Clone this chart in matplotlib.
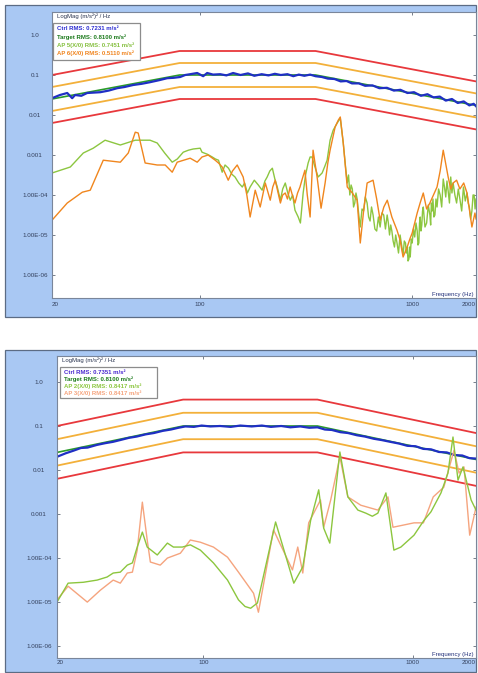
"""
Two random-vibration control plots: control spectrum against reference
profile with +-3/+-6 dB limits, plus two accelerometer response spectra.
"""
import numpy as np
import matplotlib
matplotlib.use('Agg')
import matplotlib.pyplot as plt
from matplotlib.patches import Rectangle
from matplotlib.ticker import NullLocator

plt.rcParams['font.family'] = ['Liberation Sans', 'DejaVu Sans']

W, H = 478, 673

# Reference profile, dB re 1 (m/s²)²/Hz
profile_hz = [20, 80, 350, 2000]
profile_db = [-16.0, -10.0, -10.0, -17.6]
limit_db = [6, 3, -3, -6]

# ---- top plot ----
top_ctrl_hz = [20, 21.8, 23.6, 24.9, 25.7, 27.5, 29.3, 33.8, 37, 40.6,
               44, 48.3, 53, 58, 64, 69.9, 75, 80.5, 85, 89.7,
               96.8, 103.3, 107.9, 115, 124.3, 133, 143, 155, 168, 180,
               195, 210, 225, 240, 258, 275, 292, 310, 330, 350,
               375, 400, 430, 460, 490, 520, 560, 600, 650, 700,
               760, 820, 880, 950, 1020, 1100, 1180, 1260, 1350, 1440,
               1540, 1640, 1750, 1860, 1950, 2000]
top_ctrl_db = [-15.8, -15.0, -14.5, -15.8, -15.0, -15.2, -14.5, -14.3, -13.9, -13.3,
               -13.0, -12.5, -12.2, -11.8, -11.3, -10.8, -10.7, -10.5, -10.0, -9.8,
               -9.5, -10.3, -9.5, -9.9, -9.8, -10.1, -9.5, -10.0, -9.6, -10.2,
               -9.8, -10.1, -9.7, -10.0, -9.8, -10.3, -9.9, -10.2, -9.9, -10.3,
               -10.5, -10.9, -11.0, -11.6, -11.5, -12.1, -12.1, -12.7, -12.6, -13.3,
               -13.2, -13.9, -13.7, -14.5, -14.3, -15.2, -14.8, -15.6, -15.4, -16.4,
               -16.0, -17.0, -16.6, -17.6, -17.2, -17.8]

top_ap_a_hz = [20, 24.4, 28.1, 31.3, 35.6, 42, 49.4, 58, 62.7, 68,
               73.8, 78, 83.2, 88, 92.7, 100, 102, 108, 114, 118,
               122, 127, 131, 136, 141, 146, 152, 158, 162, 167,
               172, 180, 188, 196, 202, 207, 213, 219, 225, 231,
               239, 245, 252, 259, 266, 273, 280, 290, 297, 306,
               314, 323, 330, 337, 348, 360, 376, 386, 397, 410,
               424, 443, 458,
               473, 485, 494, 501, 508, 515, 522, 529, 536, 543,
               550, 560, 569, 580, 590, 601, 613, 623, 633, 643,
               654, 667, 680, 693, 706, 720, 734, 748, 762, 772,
               782, 792, 802, 813, 825, 836, 848, 862, 877, 891,
               906, 918, 930, 938, 947, 956, 965, 972, 979, 990,
               1000, 1014, 1028, 1042, 1056, 1065, 1075, 1083, 1091, 1100,
               1110, 1119, 1128, 1149, 1170, 1191, 1212, 1222, 1232, 1242,
               1253, 1266, 1280, 1295, 1310, 1332, 1355, 1378, 1401, 1420,
               1440, 1459, 1478, 1499, 1520, 1540, 1560, 1590, 1620, 1650,
               1679, 1712, 1745, 1780, 1814, 1837, 1860, 1887, 1913, 1937,
               1960, 1980, 2000]
top_ap_a_db = [-34.5, -33.0, -29.5, -28.3, -26.3, -27.5, -26.3, -26.3, -27.0, -29.5,
               -31.8, -31.0, -29.3, -28.8, -28.5, -28.3, -29.3, -29.8, -30.5, -31.0,
               -31.3, -34.3, -32.5, -33.3, -34.8, -35.5, -37.0, -38.0, -37.0, -39.5,
               -38.0, -36.3, -37.5, -38.8, -36.5, -35.5, -34.0, -33.3, -36.0, -38.0,
               -41.3, -38.5, -37.0, -39.5, -41.3, -40.0, -43.8, -45.5, -47.0, -39.5,
               -35.0, -32.0, -30.5, -30.5, -33.0, -35.5, -34.5, -33.0, -31.3, -26.3,
               -23.8, -22.0, -20.8,
               -27.0, -33.0, -37.0, -35.0, -40.0, -37.5, -38.5, -43.0, -42.0, -39.5,
               -41.0, -45.0, -48.0, -43.5, -44.0, -40.5, -42.0, -45.5, -46.5, -43.0,
               -45.0, -48.5, -49.0, -45.5, -48.0, -44.5, -45.0, -48.5, -45.0, -47.0,
               -50.0, -47.5, -49.0, -51.5, -53.0, -50.0, -52.0, -54.5, -50.0, -52.5,
               -55.0, -51.5, -52.0, -54.5, -53.0, -56.5, -56.0, -53.0, -55.5, -51.0,
               -52.0, -48.5, -50.5, -47.0, -49.0, -52.5, -52.0, -47.0, -45.5, -49.0,
               -47.5, -44.0, -43.0, -48.0, -47.0, -42.5, -45.0, -47.5, -42.0, -44.0,
               -41.0, -45.5, -45.0, -41.0, -43.0, -38.5, -40.0, -43.0, -36.0, -38.0,
               -40.5, -36.5, -39.0, -42.0, -35.5, -39.5, -37.0, -40.0, -42.0, -38.5,
               -41.0, -44.0, -38.0, -41.5, -39.5, -42.0, -43.0, -46.0, -44.0, -40.0,
               -40.0, -43.5, -41.0]

top_ap_b_hz = [20, 23.6, 27.8, 30.3, 34.9, 42, 45.8, 49.4, 51, 55,
               62.7, 68.4, 73.8, 77.9, 89.7, 96.8, 102, 109, 117.7, 122,
               127, 131, 135.6, 142, 149.5, 159.5, 166, 172, 181.8, 191.9,
               202.8, 208, 214, 220, 226, 232, 239, 245, 252, 258,
               265.6, 272, 280, 288, 295.6, 303, 312, 320, 330, 340.8,
               356, 371.7, 388.4, 400, 410, 433, 448, 458, 473, 494,
               522, 550, 560, 569, 590, 613, 654, 680, 706, 735,
               763, 802, 848, 877, 906, 947, 975, 1000, 1056, 1090,
               1128, 1170, 1212, 1260, 1310, 1355, 1401, 1478, 1520, 1560,
               1620, 1679, 1750, 1814, 1913, 1977, 2000]
top_ap_b_db = [-46.3, -42.0, -39.3, -38.8, -31.3, -31.8, -29.5, -24.3, -24.5, -32.0,
               -32.5, -32.5, -34.3, -31.8, -30.8, -31.8, -30.5, -30.0, -31.3, -32.0,
               -33.0, -34.5, -36.3, -34.0, -32.5, -35.5, -40.0, -45.5, -38.8, -43.0,
               -37.0, -39.0, -41.3, -38.0, -36.3, -39.0, -42.0, -40.0, -39.5, -41.0,
               -38.0, -40.0, -42.0, -39.5, -38.0, -36.0, -33.8, -40.0, -45.5, -28.8,
               -35.5, -43.3, -37.0, -32.0, -28.8, -23.0, -21.3, -20.5, -27.0, -38.0,
               -39.5, -41.3, -47.0, -52.0, -44.0, -37.0, -36.3, -41.0, -46.3, -43.0,
               -41.3, -45.5, -48.8, -51.3, -55.5, -53.0, -51.0, -49.5, -44.5, -42.0,
               -39.5, -43.5, -42.0, -40.0, -38.0, -34.0, -28.8, -35.5, -38.5, -37.0,
               -36.3, -38.5, -37.0, -39.5, -48.0, -44.5, -46.0]

top_legend = ['Ctrl RMS: 0.7231 m/s²', 'Target RMS: 0.8100 m/s²',
              'AP 5(X/0) RMS: 0.7451 m/s²', 'AP 6(X/0) RMS: 0.5110 m/s²']

# ---- bottom plot ----
bot_ctrl_hz = [20, 22, 24, 26, 28, 31, 34, 37, 40, 44,
               48, 53, 58, 64, 70, 76, 82, 90, 98, 108,
               120, 135, 150, 170, 190, 210, 235, 260, 290, 320,
               350, 380, 410, 450, 490, 540, 590, 650, 710, 780,
               860, 940, 1030, 1120, 1220, 1330, 1450, 1580, 1720, 1860,
               2000]
bot_ctrl_db = [-17.0, -16.2, -15.6, -15.0, -14.9, -14.3, -13.9, -13.6, -13.2, -12.7,
               -12.4, -11.9, -11.6, -11.1, -10.8, -10.4, -10.1, -10.2, -9.9, -10.1,
               -10.0, -10.2, -9.9, -10.1, -9.9, -10.2, -10.0, -10.3, -10.1, -10.4,
               -10.3, -10.8, -10.9, -11.4, -11.6, -12.1, -12.4, -12.9, -13.2, -13.6,
               -14.0, -14.5, -14.6, -15.2, -15.3, -15.9, -16.0, -16.6, -16.7, -17.3,
               -17.4]

bot_ap_a_hz = [20, 22.6, 26.7, 31.1, 34.7, 37.1, 40.1, 43.3, 45.8, 48.3,
               51.1, 53.9, 60.2, 67.3, 71.9, 79.3, 86.6, 96.7, 111.6, 130.3,
               147, 158, 168, 181, 221, 270, 298, 325, 355, 375,
               401, 419, 448, 489, 546, 596, 640, 680, 743, 811,
               876, 1012, 1130, 1219, 1361, 1469, 1553, 1641, 1734, 1895,
               2000]
bot_ap_a_db = [-50.0, -45.7, -45.5, -45.0, -44.3, -43.4, -43.2, -41.6, -41.1, -37.5,
               -34.1, -37.5, -39.3, -36.6, -37.5, -37.5, -37.0, -38.2, -41.1, -45.0,
               -49.5, -51.0, -51.4, -50.2, -31.8, -45.7, -42.0, -31.4, -24.5, -33.2,
               -36.6, -28.4, -15.9, -26.1, -29.1, -29.8, -30.5, -29.8, -25.2, -38.2,
               -37.5, -34.8, -31.4, -29.5, -25.2, -20.7, -12.5, -22.3, -19.3, -26.8,
               -29.1]

bot_ap_b_hz = [20, 22.6, 27.9, 32.2, 37.1, 40.1, 43.3, 45.8, 48.3, 51.1,
               53.9, 55.8, 62.2, 67.3, 77.6, 86.6, 96.7, 111.6, 130.3, 147,
               173.5, 183, 216, 266, 282, 298, 318, 362, 375, 405,
               448, 489, 564, 680, 760, 803, 1012, 1122, 1250, 1404,
               1571, 1660, 1753, 1866, 1953, 2000]
bot_ap_b_db = [-49.5, -46.4, -50.0, -47.3, -45.0, -45.7, -43.4, -43.2, -38.2, -27.3,
               -35.9, -40.9, -41.6, -40.0, -38.9, -35.9, -36.4, -37.5, -39.8, -43.2,
               -48.0, -52.3, -33.6, -42.7, -37.5, -43.4, -32.0, -26.8, -33.0, -26.8,
               -17.0, -26.1, -28.0, -29.1, -26.1, -33.0, -32.0, -32.0, -26.1, -23.9,
               -15.5, -20.7, -19.3, -34.8, -30.7, -28.4]

bot_legend = ['Ctrl RMS: 0.7351 m/s²', 'Target RMS: 0.8100 m/s²',
              'AP 2(X/0) RMS: 0.8417 m/s²', 'AP 3(X/0) RMS: 0.8417 m/s²']

ytick_vals = [1.0, 0.1, 0.01, 0.001, 1e-4, 1e-5, 1e-6]
ytick_labels = ['1.0', '0.1', '0.01', '0.001', '1.00E-04', '1.00E-05', '1.00E-06']
xtick_vals = [20, 100, 1000, 2000]
xtick_labels = ['20', '100', '1000', '2000']


def psd(db):
    return np.power(10.0, np.asarray(db, dtype=float) / 10.0)


def fig_rect(l, t, r, b):
    # pixel box -> figure fraction
    return [l / W, 1 - b / H, (r - l) / W, (b - t) / H]


fig = plt.figure(figsize=(W / 100, H / 100), dpi=100)
FRAME = '#a9c8f3'

for box in [(5, 5, 476, 317), (5, 350, 476, 672)]:
    x, y, w, h = fig_rect(*box)
    fig.patches.append(Rectangle((x, y), w, h, transform=fig.transFigure,
                                 fc=FRAME, ec='#5c6c84', lw=0.9, zorder=-10))


def draw_panel(ax, ctrl, aps, ap_colors, legend, leg_colors, ylim,
               leg_box, leg_ys, ypad, xpad):
    lim_colors = ['#e8383c', '#f3b03a', '#f3b03a', '#e8383c']
    for off, c in zip(limit_db, lim_colors):
        ax.plot(profile_hz, psd(np.array(profile_db) + off), color=c, lw=1.3)
    ax.plot(profile_hz, psd(profile_db), color='#2a9a2a', lw=1.2)
    ax.plot(ctrl[0], psd(ctrl[1]), color='#1f2fc4', lw=1.6)
    for (hz, db), c in zip(aps, ap_colors):
        ax.plot(hz, psd(db), color=c, lw=1.0)

    ax.set_xscale('log')
    ax.set_yscale('log')
    ax.set_xlim(20, 2000)
    ax.set_ylim(*ylim)
    ax.xaxis.set_minor_locator(NullLocator())
    ax.yaxis.set_minor_locator(NullLocator())
    ax.set_xticks(xtick_vals)
    ax.set_xticklabels(xtick_labels)
    ax.set_yticks(ytick_vals)
    ax.set_yticklabels(ytick_labels)
    ax.tick_params(direction='in', length=2.5, width=0.6, color='#606a78',
                   labelsize=4.5, labelcolor='#33405c',
                   top=True, right=True)
    ax.tick_params(axis='y', pad=ypad)
    ax.tick_params(axis='x', pad=xpad)
    for lab in ax.get_yticklabels():
        lab.set_ha('center')
    xl = ax.get_xticklabels()
    xl[0].set_ha('left')
    xl[-1].set_ha('right')
    for sp in ax.spines.values():
        sp.set_color('#7a869a')
        sp.set_linewidth(0.8)

    ax.text(0.012, 0.997, 'LogMag (m/s²)² / Hz', transform=ax.transAxes,
            ha='left', va='top', fontsize=4.3, color='#2b3550')
    ax.text(0.993, 0.004, 'Frequency (Hz)', transform=ax.transAxes,
            ha='right', va='bottom', fontsize=4.3, color='#22307a')

    x0, y0, w, h = leg_box
    ax.add_patch(Rectangle((x0, y0), w, h, transform=ax.transAxes,
                           fc='white', ec='#8c8c8c', lw=0.9, zorder=5))
    for txt, c, yy in zip(legend, leg_colors, leg_ys):
        ax.text(x0 + 0.01, yy, txt, transform=ax.transAxes, ha='left',
                va='center', fontsize=4.3, color=c, fontweight='bold',
                zorder=6)


ax1 = fig.add_axes(fig_rect(52, 12, 476, 298))
draw_panel(ax1, (top_ctrl_hz, top_ctrl_db),
           [(top_ap_a_hz, top_ap_a_db), (top_ap_b_hz, top_ap_b_db)],
           ['#8cc640', '#f0861e'], top_legend,
           ['#2a2ad0', '#1c7a1c', '#86c040', '#f0841e'],
           (10 ** -6.575, 10 ** 0.575),
           (0.0024, 0.832, 0.205, 0.1295), [0.944, 0.913, 0.885, 0.857],
           ypad=12.2, xpad=2.9)

ax2 = fig.add_axes(fig_rect(57, 356, 476, 658))
draw_panel(ax2, (bot_ctrl_hz, bot_ctrl_db),
           [(bot_ap_b_hz, bot_ap_b_db), (bot_ap_a_hz, bot_ap_a_db)],
           ['#f5a47e', '#8cc63e'], bot_legend,
           ['#4a2ad0', '#1c7a1c', '#8cc63e', '#f5a47e'],
           (10 ** -6.27, 10 ** 0.59),
           (0.007, 0.861, 0.2315, 0.1026), [0.947, 0.924, 0.901, 0.877],
           ypad=13.0, xpad=1.5)

fig.savefig('out.png', dpi=100)
